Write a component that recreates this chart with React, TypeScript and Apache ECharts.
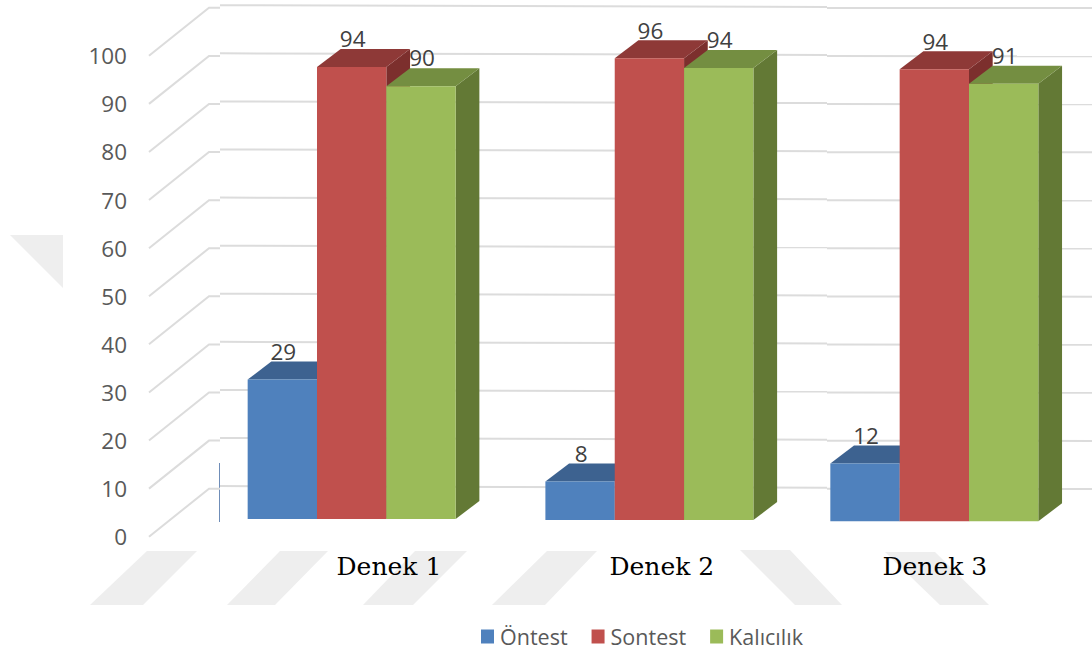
import React, { useEffect, useRef } from "react";
import * as echarts from "echarts";

const categories = ["Denek 1", "Denek 2", "Denek 3"];
const ticks = [0, 10, 20, 30, 40, 50, 60, 70, 80, 90, 100];
const ontest = [29, 8, 12];
const sontest = [94, 96, 94];
const kalicilik = [90, 94, 91];

const FRONT = ["#4f81bd", "#c0504d", "#9bbb59"];
const TOP = ["#3d6290", "#8e3937", "#748e41"];
const SIDE = ["#375a85", "#7c2f2d", "#637935"];
const NAMES = ["Öntest", "Sontest", "Kalıcılık"];
const SERIES_VALUES = [ontest, sontest, kalicilik];

const GRID_LEFT = 206;
const SLANT_START = -57;
const SLANT_END = 3;
const WALL_START = 14;
const WALL_BREAK = 621;
const DEPTH_X = 23.7;
const DEPTH_Y = 18;
const BAR_RATIO = 0.238;
const GROUP_SHIFT_X = [0, 6.4, 0];
const GROUP_SHIFT_Y = [-17.7, -16.7, -15.4];
const LABEL_SHIFT_X = [37.3, 18.9, 0.5];

const WATERMARK: number[][][] = [
  [[147, 551], [197, 551], [143, 605], [90, 605]],
  [[280, 551], [328, 551], [275, 605], [227, 605]],
  [[415, 551], [467, 551], [413, 605], [363, 605]],
  [[547, 551], [597, 551], [545, 605], [492, 605]],
  [[740, 550], [790, 550], [842, 605], [795, 605]],
  [[885, 552], [935, 552], [989, 605], [940, 605]],
  [[10, 235], [63, 235], [63, 288]],
];

const renderGrid = (params: any, api: any) => {
  const left = params.coordSys.x;
  const right = params.coordSys.x + params.coordSys.width;
  const y = api.coord([0, api.value(1)])[1];
  const style = { stroke: "#dcdcdc", lineWidth: 2, fill: "none" };
  return {
    type: "group",
    children: [
      {
        type: "polyline",
        shape: { points: [[left + SLANT_START, y], [left + SLANT_END, y - 48], [left + WALL_START, y - 48]] },
        style,
      },
      {
        type: "line",
        shape: { x1: left + WALL_START, y1: y - 50.6, x2: left + WALL_BREAK, y2: y - 48.9 },
        style,
      },
      {
        type: "line",
        shape: { x1: left + WALL_BREAK, y1: y - 47.9, x2: right + 12, y2: y - 47.7 },
        style,
      },
    ],
  };
};

const makeRenderBar = (si: number) => (params: any, api: any) => {
  const i = api.value(0);
  const v = api.value(1);
  const cx = api.coord([i, v])[0] + GROUP_SHIFT_X[i];
  const w = api.size([1, 0])[0] * BAR_RATIO;
  const x0 = cx + (si - 1.5) * w;
  const x1 = x0 + w;
  const yTop = api.coord([i, v])[1] + GROUP_SHIFT_Y[i];
  const yBase = api.coord([i, 0])[1] + GROUP_SHIFT_Y[i];
  return {
    type: "group",
    children: [
      {
        type: "polygon",
        shape: { points: [[x1, yTop], [x1 + DEPTH_X, yTop - DEPTH_Y], [x1 + DEPTH_X, yBase - DEPTH_Y], [x1, yBase]] },
        style: { fill: SIDE[si] },
      },
      {
        type: "polygon",
        shape: { points: [[x0, yTop], [x0 + DEPTH_X, yTop - DEPTH_Y], [x1 + DEPTH_X, yTop - DEPTH_Y], [x1, yTop]] },
        style: { fill: TOP[si] },
      },
      {
        type: "polygon",
        shape: { points: [[x0, yTop], [x1, yTop], [x1, yBase], [x0, yBase]] },
        style: { fill: FRONT[si] },
      },
      {
        type: "text",
        style: {
          text: String(v),
          x: x0 + w / 2 + 1,
          y: yTop - 28.2,
          textAlign: "center",
          textVerticalAlign: "middle",
          fill: "#404040",
          fontSize: 22.5,
          fontFamily: "Open Sans",
        },
      },
    ],
  };
};

const renderCategory = (params: any, api: any) => {
  const i = api.value(0);
  const p = api.coord([i, 0]);
  return {
    type: "text",
    style: {
      text: categories[i],
      x: p[0] + LABEL_SHIFT_X[i],
      y: p[1] + 30,
      textAlign: "center",
      textVerticalAlign: "middle",
      fill: "#000000",
      fontSize: 25,
      fontFamily: "DejaVu Serif",
    },
  };
};

export default function App() {
  const ref = useRef<HTMLDivElement>(null);
  useEffect(() => {
    document.body.style.margin = "0";
    const chart = echarts.init(ref.current!, undefined, { renderer: "svg" });
    chart.setOption({
      animation: false,
      backgroundColor: "#ffffff",
      grid: { left: GRID_LEFT, right: 12, top: 55.8, bottom: 118.3, containLabel: false },
      xAxis: {
        type: "category",
        data: categories,
        axisLine: { show: false },
        axisTick: { show: false },
        axisLabel: { show: false },
      },
      yAxis: {
        type: "value",
        min: 0,
        max: 100,
        interval: 10,
        axisLine: { show: false },
        axisTick: { show: false },
        splitLine: { show: false },
        axisLabel: { margin: 79, color: "#595959", fontSize: 22.5, fontFamily: "Open Sans" },
      },
      legend: {
        left: 476,
        top: 620.5,
        itemWidth: 13,
        itemHeight: 14,
        itemGap: 24,
        icon: "rect",
        selectedMode: false,
        data: NAMES,
        textStyle: { color: "#595959", fontSize: 21.5, fontFamily: "Open Sans", padding: [0, 0, 0, 1] },
      },
      graphic: {
        elements: [
          ...WATERMARK.map((points) => ({
            type: "polygon",
            z: -10,
            silent: true,
            shape: { points },
            style: { fill: "#eeeeee" },
          })),
          {
            type: "line",
            z: -5,
            silent: true,
            shape: { x1: 219.5, y1: 463, x2: 219.5, y2: 522 },
            style: { stroke: "#6f8db8", lineWidth: 1 },
          },
        ],
      },
      series: [
        {
          type: "custom",
          name: "grid",
          silent: true,
          z: 1,
          renderItem: renderGrid,
          encode: { x: 0, y: 1 },
          data: ticks.map((t) => [0, t]),
        },
        ...SERIES_VALUES.map((values, si) => ({
          type: "custom",
          name: NAMES[si],
          z: 2,
          itemStyle: { color: FRONT[si] },
          renderItem: makeRenderBar(si),
          encode: { x: 0, y: 1 },
          data: values.map((v, i) => [i, v]),
        })),
        {
          type: "custom",
          name: "categories",
          silent: true,
          z: 3,
          renderItem: renderCategory,
          encode: { x: 0 },
          data: categories.map((_, i) => [i, 0]),
        },
      ],
    });
    return () => chart.dispose();
  }, []);
  return <div ref={ref} style={{ position: "absolute", left: 0, top: 0, width: 1092, height: 655 }} />;
}
